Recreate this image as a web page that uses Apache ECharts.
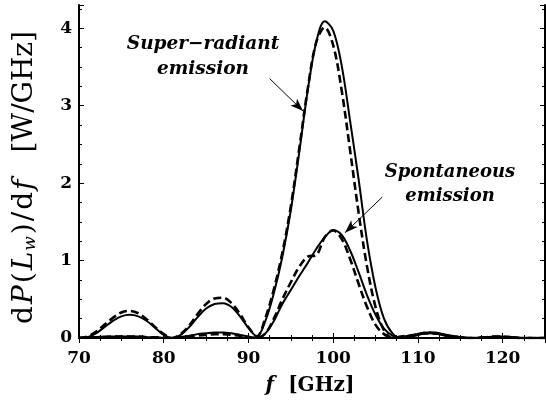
<!DOCTYPE html>
<html>
<head>
<meta charset="utf-8">
<script src="https://cdn.jsdelivr.net/npm/echarts@6/dist/echarts.min.js"></script>
<style>
  html, body { margin: 0; padding: 0; background: #fff; }
  #chart { width: 546px; height: 405px; }
</style>
</head>
<body>
<div id="chart"></div>
<script>
// frequency grid, GHz
const freq = [70, 71, 72, 73, 74, 75, 76, 77, 78, 79, 80, 81, 82, 83, 84, 85, 86, 87, 88, 89,
  90, 91, 92, 93, 94, 95, 96, 97, 98, 99, 100, 101, 102, 103, 104, 105, 106, 107, 108, 109,
  110, 111, 112, 113, 114, 115, 116, 117, 118, 119, 120, 121, 122, 123, 124, 125]

// super-radiant emission, solid and dashed
const superSolid = [0.00, 0.01, 0.06, 0.14, 0.22, 0.28, 0.30, 0.28, 0.22, 0.13, 0.04, 0.00, 0.04, 0.14, 0.27, 0.38, 0.44, 0.45, 0.40, 0.28,
  0.13, 0.02, 0.22, 0.58, 1.05, 1.65, 2.40, 3.20, 3.82, 4.09, 3.97, 3.52, 2.80, 2.05, 1.25, 0.65, 0.25, 0.06, 0.00, 0.01,
  0.04, 0.06, 0.06, 0.04, 0.02, 0.01, 0.00, 0.00, 0.01, 0.02, 0.02, 0.01, 0.00, 0.00, 0.00, 0.00]
const superDashed = [0.00, 0.02, 0.08, 0.17, 0.26, 0.33, 0.35, 0.32, 0.24, 0.14, 0.05, 0.00, 0.05, 0.16, 0.31, 0.44, 0.51, 0.52, 0.45, 0.31,
  0.14, 0.02, 0.26, 0.63, 1.10, 1.70, 2.45, 3.22, 3.82, 4.01, 3.78, 3.20, 2.42, 1.62, 0.92, 0.40, 0.10, 0.00, 0.02, 0.03,
  0.05, 0.06, 0.06, 0.04, 0.02, 0.01, 0.00, 0.00, 0.01, 0.02, 0.02, 0.01, 0.00, 0.00, 0.00, 0.00]

// spontaneous emission, solid and dashed
const spontSolid = [0.00, 0.01, 0.01, 0.02, 0.02, 0.02, 0.02, 0.02, 0.01, 0.01, 0.00, 0.00, 0.01, 0.03, 0.05, 0.06, 0.07, 0.07, 0.06, 0.04,
  0.02, 0.00, 0.06, 0.22, 0.44, 0.62, 0.80, 0.97, 1.15, 1.30, 1.39, 1.33, 1.13, 0.85, 0.55, 0.30, 0.12, 0.03, 0.00, 0.02,
  0.05, 0.07, 0.07, 0.05, 0.03, 0.01, 0.00, 0.00, 0.01, 0.01, 0.01, 0.01, 0.00, 0.00, 0.00, 0.00]
const spontDashed = [0.00, 0.01, 0.01, 0.01, 0.02, 0.02, 0.02, 0.02, 0.01, 0.01, 0.00, 0.00, 0.01, 0.02, 0.03, 0.04, 0.05, 0.05, 0.04, 0.03,
  0.01, 0.00, 0.06, 0.25, 0.50, 0.72, 0.92, 1.05, 1.07, 1.30, 1.39, 1.28, 1.02, 0.70, 0.40, 0.17, 0.05, 0.00, 0.01, 0.03,
  0.05, 0.07, 0.06, 0.04, 0.02, 0.01, 0.00, 0.00, 0.01, 0.01, 0.01, 0.01, 0.00, 0.00, 0.00, 0.00]

const xTicks = [70, 80, 90, 100, 110, 120]
const yTicks = [0, 1, 2, 3, 4]

const pairs = (ys) => freq.map((f, i) => [f, ys[i]])

const chart = echarts.init(document.getElementById('chart'), null, { renderer: 'canvas' })

const serif = 'DejaVu Serif'
const tickLabel = { color: '#000', fontFamily: serif, fontWeight: 'bold', fontSize: 17 }

function lineSeries (name, ys, dashed) {
  return {
    name: name,
    type: 'line',
    data: pairs(ys),
    smooth: 0.35,
    showSymbol: false,
    silent: true,
    lineStyle: {
      color: '#000',
      width: dashed ? 2.6 : 2,
      type: dashed ? [8, 4] : 'solid'
    }
  }
}

const superSeries = lineSeries('Super-radiant solid', superSolid, false)
superSeries.markLine = {
  silent: true,
  symbol: ['none', 'arrow'],
  symbolSize: [7, 13],
  label: { show: false },
  lineStyle: { color: '#000', width: 1, type: 'solid' },
  data: [
    [{ coord: [92.5, 3.35] }, { coord: [96.45, 2.93] }],
    [{ coord: [105.8, 1.82] }, { coord: [101.4, 1.36] }]
  ]
}

// y title tokens
const tn = { fontFamily: serif, fontSize: 28, fill: '#000', padding: [0, 1, 0, 1] }
const ti = { fontFamily: serif, fontStyle: 'italic', fontSize: 28, fill: '#000', padding: [0, 1, 0, 1] }

chart.setOption({
  animation: false,
  grid: { left: 79, right: 1, top: 5, bottom: 67 },
  xAxis: [
    {
      type: 'value',
      min: 70,
      max: 125,
      interval: 10,
      axisLine: { lineStyle: { color: '#000', width: 2 } },
      axisTick: { inside: true, length: 5, lineStyle: { color: '#000', width: 1 } },
      minorTick: { show: true, splitNumber: 4, length: 3, lineStyle: { color: '#000' } },
      splitLine: { show: false },
      axisLabel: {
        ...tickLabel,
        margin: 12,
        showMaxLabel: false,
        formatter: (v) => (xTicks.indexOf(v) >= 0 ? String(v) : '')
      }
    },
    {
      type: 'value',
      position: 'top',
      min: 70,
      max: 125,
      interval: 10,
      axisLine: { lineStyle: { color: '#000', width: 2 } },
      axisTick: { inside: true, length: 5, lineStyle: { color: '#000' } },
      minorTick: { show: true, splitNumber: 4, length: 3, lineStyle: { color: '#000' } },
      splitLine: { show: false },
      axisLabel: { show: false }
    }
  ],
  yAxis: [
    {
      type: 'value',
      min: 0,
      max: 4.3,
      interval: 1,
      axisLine: { show: true, lineStyle: { color: '#000', width: 2 } },
      axisTick: { show: true, inside: true, length: 5, lineStyle: { color: '#000' } },
      minorTick: { show: true, splitNumber: 4, length: 3, lineStyle: { color: '#000' } },
      splitLine: { show: false },
      axisLabel: {
        ...tickLabel,
        margin: 7,
        showMaxLabel: false,
        formatter: (v) => (yTicks.indexOf(v) >= 0 ? String(v) : '')
      }
    },
    {
      type: 'value',
      position: 'right',
      min: 0,
      max: 4.3,
      interval: 1,
      axisLine: { show: true, lineStyle: { color: '#000', width: 2 } },
      axisTick: { show: true, inside: true, length: 5, lineStyle: { color: '#000' } },
      minorTick: { show: true, splitNumber: 4, length: 3, lineStyle: { color: '#000' } },
      splitLine: { show: false },
      axisLabel: { show: false }
    }
  ],
  series: [
    superSeries,
    lineSeries('Super-radiant dashed', superDashed, true),
    lineSeries('Spontaneous solid', spontSolid, false),
    lineSeries('Spontaneous dashed', spontDashed, true)
  ],
  graphic: [
    {
      type: 'text',
      x: 25,
      y: 178,
      rotation: Math.PI / 2,
      style: {
        text: '{n|d}{i|P}{n|(}{i|L}{s|w}{n|)}{n|/}{n|d}{i|f}{g|[W/GHz]}',
        align: 'center',
        verticalAlign: 'middle',
        fill: '#000',
        rich: {
          n: tn,
          i: ti,
          s: { fontFamily: serif, fontStyle: 'italic', fontSize: 17, fill: '#000', padding: [12, 1, 0, 0] },
          g: { fontFamily: serif, fontSize: 28, fill: '#000', padding: [0, 0, 0, 26] }
        }
      }
    },
    {
      type: 'text',
      x: 310,
      y: 386,
      style: {
        text: '{i|f}{n|  [GHz]}',
        align: 'center',
        verticalAlign: 'middle',
        rich: {
          n: { fontFamily: serif, fontWeight: 'bold', fontSize: 20, fill: '#000' },
          i: { fontFamily: serif, fontWeight: 'bold', fontStyle: 'italic', fontSize: 20, fill: '#000' }
        }
      }
    },
    {
      type: 'text',
      x: 203,
      y: 57,
      style: {
        text: 'Super\u2212radiant\nemission',
        align: 'center',
        verticalAlign: 'middle',
        lineHeight: 25,
        fontFamily: serif,
        fontWeight: 'bold',
        fontStyle: 'italic',
        fontSize: 18.5,
        fill: '#000'
      }
    },
    {
      type: 'text',
      x: 450,
      y: 184,
      style: {
        text: 'Spontaneous\nemission',
        align: 'center',
        verticalAlign: 'middle',
        lineHeight: 24,
        fontFamily: serif,
        fontWeight: 'bold',
        fontStyle: 'italic',
        fontSize: 18,
        fill: '#000'
      }
    }
  ]
})

window.addEventListener('resize', () => {
  chart.resize()
})
</script>
</body>
</html>
